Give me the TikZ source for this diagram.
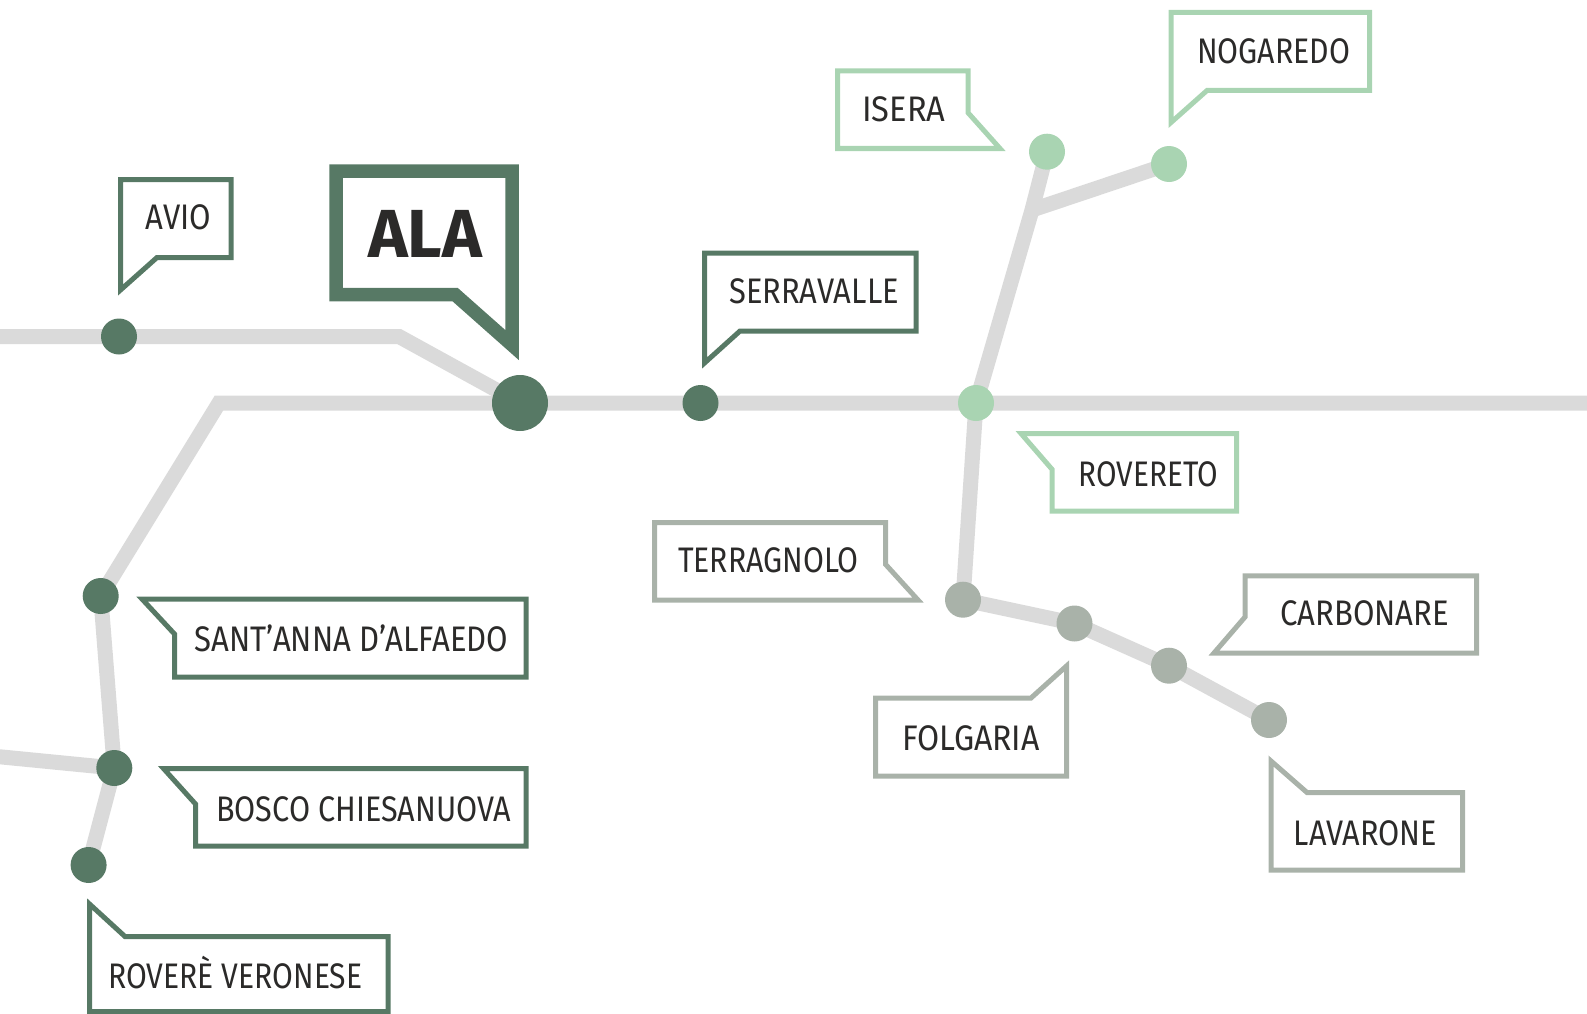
\documentclass[tikz,border=0pt]{standalone}
\usepackage{fontspec}
\usetikzlibrary{backgrounds}
\newfontfamily\placefont[FakeStretch=0.875]{Fira Sans}
\newfontfamily\mainplacefont[FakeStretch=0.99]{Fira Sans}
\definecolor{darkgreen}{HTML}{577965}
\definecolor{lightgreen}{HTML}{A9D4B2}
\definecolor{greygreen}{HTML}{A9B2A9}
\definecolor{roadgrey}{HTML}{DADADA}
\definecolor{inkgrey}{HTML}{2B2A29}
\tikzset{
    road/.style={draw=roadgrey, line width=15pt},
    stop/.style={circle, fill=#1, inner sep=0pt, minimum size=36pt},
    bubble/.style={draw=#1, line width=5pt, miter limit=10},
    place/.style={anchor=base west, inner sep=0pt, text=inkgrey, font=\placefont\fontsize{35.5}{35.5}\selectfont},
    squeeze/.style={xscale=#1, transform shape},
}
\begin{document}
\begin{tikzpicture}[x=1pt, y=-1pt]
    \useasboundingbox (0,0) rectangle (1587,1014);
    % Stops
    \node (avio) at (119,336.5) [stop=darkgreen] {};
    \node (ala) at (520,403) [stop=darkgreen, minimum size=56pt] {};
    \node (serravalle) at (700.5,403) [stop=darkgreen] {};
    \node (santanna) at (100.7,596) [stop=darkgreen] {};
    \node (bosco) at (114.3,768) [stop=darkgreen] {};
    \node (rovere) at (88.6,865) [stop=darkgreen] {};
    \node (rovereto) at (976,403) [stop=lightgreen] {};
    \node (isera) at (1047,151.7) [stop=lightgreen] {};
    \node (nogaredo) at (1169,164) [stop=lightgreen] {};
    \node (terragnolo) at (963,599.7) [stop=greygreen] {};
    \node (folgaria) at (1074.5,623.5) [stop=greygreen] {};
    \node (carbonare) at (1169,665.7) [stop=greygreen] {};
    \node (lavarone) at (1269,720) [stop=greygreen] {};
    % Free ends and bends of the roads
    \coordinate (westtop) at (0,336.5);
    \coordinate (bendtop) at (399,336.5);
    \coordinate (bendlow) at (219,403);
    \coordinate (westlow) at (-4,756.4);
    \coordinate (east) at (1587,403);
    \coordinate (fork) at (1032,210);
    \begin{scope}[on background layer]
        \draw[road] (westtop) -- (avio.center) -- (bendtop) -- (ala.center);
        \draw[road] (santanna.center) -- (bendlow) -- (ala.center) -- (serravalle.center) -- (rovereto.center) -- (east);
        \draw[road] (santanna.center) -- (bosco.center) -- (rovere.center);
        \draw[road] (westlow) -- (bosco.center);
        \draw[road] (rovereto.center) -- (fork) -- (isera.center);
        \draw[road] (fork) -- (nogaredo.center);
        \draw[road] (rovereto.center) -- (terragnolo.center) -- (folgaria.center) -- (carbonare.center) -- (lavarone.center);
    \end{scope}
    % Speech bubbles
    \draw[bubble=darkgreen] (120.5,290) -- (120.5,179.5) -- (231,179.5) -- (231,257.5) -- (157,257.5) -- cycle;
    \draw[bubble=darkgreen, line width=13.5pt] (512,345) -- (512,171) -- (336,171) -- (336,294.5) -- (455,294.5) -- cycle;
    \draw[bubble=darkgreen] (704.5,363) -- (704.5,253) -- (916,253) -- (916,331) -- (740,331) -- cycle;
    \draw[bubble=darkgreen] (142,599) -- (526,599) -- (526,677) -- (174.5,677) -- (174.5,634) -- cycle;
    \draw[bubble=darkgreen] (163.5,768.5) -- (526,768.5) -- (526,846) -- (195.5,846) -- (195.5,804) -- cycle;
    \draw[bubble=darkgreen] (89.5,904) -- (125,936.5) -- (388,936.5) -- (388,1011.5) -- (89.5,1011.5) -- cycle;
    \draw[bubble=lightgreen] (1000,148.5) -- (837.5,148.5) -- (837.5,70.8) -- (968,70.8) -- (968,112.7) -- cycle;
    \draw[bubble=lightgreen] (1171,122.5) -- (1171,12.5) -- (1369.5,12.5) -- (1369.5,90.5) -- (1207,90.5) -- cycle;
    \draw[bubble=lightgreen] (1021,433.5) -- (1236.5,433.5) -- (1236.5,511) -- (1052,511) -- (1052,469.3) -- cycle;
    \draw[bubble=greygreen] (918,600) -- (654.5,600) -- (654.5,522.5) -- (885.5,522.5) -- (885.5,564.3) -- cycle;
    \draw[bubble=greygreen] (1066.5,666) -- (1066.5,776) -- (875.5,776) -- (875.5,698) -- (1031,698) -- cycle;
    \draw[bubble=greygreen] (1214,653) -- (1476.5,653) -- (1476.5,575.8) -- (1245,575.8) -- (1245,617) -- cycle;
    \draw[bubble=greygreen] (1271,761) -- (1271,870) -- (1462.5,870) -- (1462.5,792.5) -- (1307,792.5) -- cycle;
    % Names
    \node (aviotext) at (145.5,229) [place] {AVIO};
    \node (alatext) at (368,257) [place, font=\mainplacefont\bfseries\fontsize{68}{68}\selectfont] {ALA};
    \node (serravalletext) at (729,303.7) [place, squeeze=0.994] {SERRAVALLE};
    \node (santannatext) at (194.6,651.7) [place] {SANT’ANNA D’ALFAEDO};
    \node (boscotext) at (216,821.7) [place, squeeze=0.983] {BOSCO CHIESANUOVA};
    \node (roveretext) at (108,988.7) [place, squeeze=0.969] {ROVERÈ VERONESE};
    \node (iseratext) at (862,121.7) [place, squeeze=1.05] {ISERA};
    \node (nogaredotext) at (1197,63.3) [place, squeeze=0.974] {NOGAREDO};
    \node (roveretotext) at (1078.5,486) [place, squeeze=0.958] {ROVERETO};
    \node (terragnolotext) at (678,572.7) [place, squeeze=0.973] {TERRAGNOLO};
    \node (folgariatext) at (902,750) [place, squeeze=1.03] {FOLGARIA};
    \node (carbonaretext) at (1280,625) [place] {CARBONARE};
    \node (lavaronetext) at (1293.7,845) [place, squeeze=0.986] {LAVARONE};
\end{tikzpicture}
\end{document}
